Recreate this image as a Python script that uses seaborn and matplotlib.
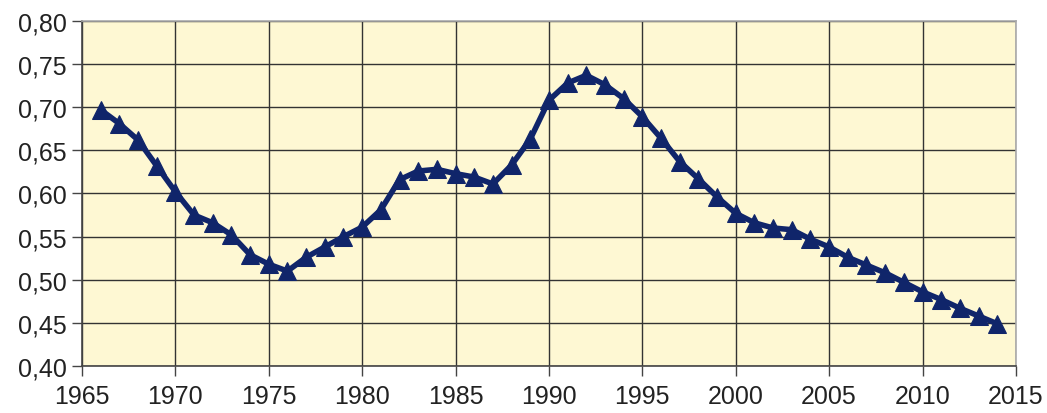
import matplotlib
matplotlib.use("Agg")
import matplotlib.pyplot as plt
import seaborn as sns
import pandas as pd
from matplotlib.ticker import FuncFormatter, MultipleLocator

sns.set_theme(style="white")
plt.rcParams['font.family'] = ['Liberation Sans', 'DejaVu Sans']

years = list(range(1966, 2015))
values = [0.697, 0.681, 0.662, 0.632, 0.602, 0.575, 0.566, 0.552, 0.529, 0.518,
          0.510, 0.526, 0.538, 0.550, 0.561, 0.581, 0.616, 0.626, 0.628, 0.623,
          0.619, 0.611, 0.633, 0.663, 0.708, 0.728, 0.737, 0.726, 0.710, 0.689,
          0.664, 0.637, 0.617, 0.596, 0.577, 0.566, 0.560, 0.558, 0.547, 0.538,
          0.526, 0.517, 0.508, 0.497, 0.486, 0.477, 0.467, 0.458, 0.449]

df = pd.DataFrame({"year": years, "value": values})

fig = plt.figure(figsize=(10.47, 4.14), dpi=100)
ax = fig.add_axes([0.0783, 0.1135, 0.892, 0.8335])
ax.set_facecolor('#FEF8D3')

sns.lineplot(data=df, x="year", y="value", ax=ax, color='#10256A', linewidth=4.0,
             marker='^', markersize=13, markeredgecolor='#10256A', zorder=3)

ax.set_xlim(1965, 2015)
ax.set_ylim(0.40, 0.80)
ax.xaxis.set_major_locator(MultipleLocator(5))
ax.yaxis.set_major_locator(MultipleLocator(0.05))
ax.yaxis.set_major_formatter(FuncFormatter(lambda v, p: f"{v:.2f}".replace('.', ',')))
ax.grid(True, color='#333333', linewidth=1.0)
ax.set_axisbelow(True)
ax.set_xlabel("")
ax.set_ylabel("")

for s in ['left', 'bottom']:
    ax.spines[s].set_color('#444444')
    ax.spines[s].set_linewidth(1.2)
for s in ['top', 'right']:
    ax.spines[s].set_color('#AAAAAA')
    ax.spines[s].set_linewidth(1.2)

ax.tick_params(axis='both', which='major', direction='out', length=7, width=1.0,
               color='#444444', labelsize=18, labelcolor='#222222', pad=4)
ax.tick_params(axis='x', pad=6)
ax.tick_params(left=True, bottom=True)

fig.savefig("out.png", dpi=100)
